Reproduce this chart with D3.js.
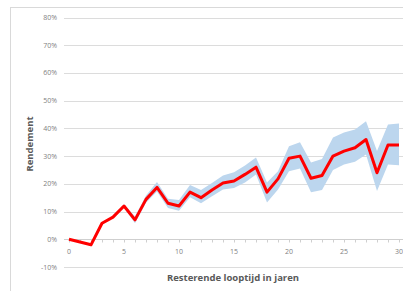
<!doctype html>
<html lang="nl">
<head>
<meta charset="utf-8">
<title>Rendement</title>
<style>
html, body {
	margin: 0;
	padding: 0;
	width: 403px;
	height: 291px;
	overflow: hidden;
	background: #fff;
	font-family: 'Open Sans', 'Liberation Sans', sans-serif;
}
svg text { fill: #7f7f7f; }
.grid line { stroke: #dcdcdc; stroke-width: 1px; }
.title { fill: #595959; font-weight: bold; font-size: 9.5px; }
</style>
</head>
<body>
<div id="chart"></div>
<script src="https://cdnjs.cloudflare.com/ajax/libs/d3/7.8.5/d3.min.js"></script>
<script>
// resterende looptijd (jaren)
var years = d3.range(0, 31);
// gemiddeld rendement (rode lijn)
var rendement = [0, -1, -2, 5.8, 8, 12, 7, 14.4, 18.7, 13, 12, 17, 15, 17.8, 20.3, 21,
	23.4, 26, 17, 21.8, 29.2, 30, 22, 23, 30, 31.8, 33, 36, 24, 34, 34];
// band boven- en ondergrens
var bandHigh = [0.3, -0.7, -1.7, 6.1, 8.4, 12.6, 8.2, 15.8, 20.7, 14.6, 14.2, 19.6, 17.8, 20.3, 23,
	24.2, 26.6, 29.5, 20.5, 24.5, 33.6, 35, 27.7, 29, 36.7, 38.5, 39.6, 42.6, 31.8, 41.4, 41.8];
var bandLow = [-0.3, -1.3, -2.3, 5.5, 7.6, 11.4, 5.8, 13.2, 17.2, 11.3, 10.3, 15.2, 13, 15.5, 18,
	18.5, 20.5, 23.4, 13.3, 18, 24.5, 25.5, 17, 17.8, 25, 27, 28, 30.6, 17.4, 27, 26.7];
var yTicks = [-10, 0, 10, 20, 30, 40, 50, 60, 70, 80];
var xTicks = [0, 5, 10, 15, 20, 25, 30];

var W = 403, H = 291;
var left = 64, right = 404;

var svg = d3.select('#chart').append('svg')
	.attr('width', W)
	.attr('height', H);

// chart frame
svg.append('rect')
	.attr('x', 10.5).attr('y', 7.5)
	.attr('width', 420).attr('height', 300)
	.attr('fill', 'none')
	.attr('stroke', '#d9d9d9');

var x = d3.scaleLinear().domain([0, 30]).range([69, 399]);
var y = d3.scaleLinear().domain([-10, 80]).range([267, 17.5]);

// gridlines
svg.append('g').attr('class', 'grid')
	.selectAll('line').data(yTicks).enter()
	.append('line')
	.attr('x1', left).attr('x2', right)
	.attr('y1', function (d) { return Math.round(y(d)) + 0.5; })
	.attr('y2', function (d) { return Math.round(y(d)) + 0.5; });

// y labels
svg.append('g').selectAll('text').data(yTicks).enter()
	.append('text')
	.attr('x', 57)
	.attr('y', function (d) { return y(d) + 2.5; })
	.attr('text-anchor', 'end')
	.attr('font-size', '7px')
	.text(function (d) { return d + '%'; });

// category axis at 0%
var y0 = Math.round(y(0)) + 0.5;
svg.append('line')
	.attr('x1', left).attr('x2', right)
	.attr('y1', y0).attr('y2', y0)
	.attr('stroke', '#cfcfcf');
svg.append('g').selectAll('line').data(years).enter()
	.append('line')
	.attr('x1', function (d) { return Math.round(x(d)) + 0.5; })
	.attr('x2', function (d) { return Math.round(x(d)) + 0.5; })
	.attr('y1', y0).attr('y2', y0 + 3)
	.attr('stroke', '#cfcfcf');

svg.append('g').selectAll('text').data(xTicks).enter()
	.append('text')
	.attr('x', function (d) { return x(d); })
	.attr('y', 253.5)
	.attr('text-anchor', 'middle')
	.attr('font-size', '7px')
	.text(function (d) { return d; });

// band
var area = d3.area()
	.x(function (d) { return x(d); })
	.y0(function (d, i) { return y(bandLow[i]); })
	.y1(function (d, i) { return y(bandHigh[i]); });
svg.append('path')
	.datum(years)
	.attr('d', area)
	.attr('fill', '#bcd6ee');

// line
var line = d3.line()
	.x(function (d) { return x(d); })
	.y(function (d, i) { return y(rendement[i]); });
svg.append('path')
	.datum(years)
	.attr('d', line)
	.attr('fill', 'none')
	.attr('stroke', '#ff0000')
	.attr('stroke-width', 3)
	.attr('stroke-linejoin', 'round');

// titles
svg.append('text')
	.attr('class', 'title')
	.attr('x', 233).attr('y', 280.5)
	.attr('text-anchor', 'middle')
	.text('Resterende looptijd in jaren');

svg.append('text')
	.attr('class', 'title')
	.attr('transform', 'translate(33,144) rotate(-90)')
	.attr('text-anchor', 'middle')
	.text('Rendement');
</script>
</body>
</html>
